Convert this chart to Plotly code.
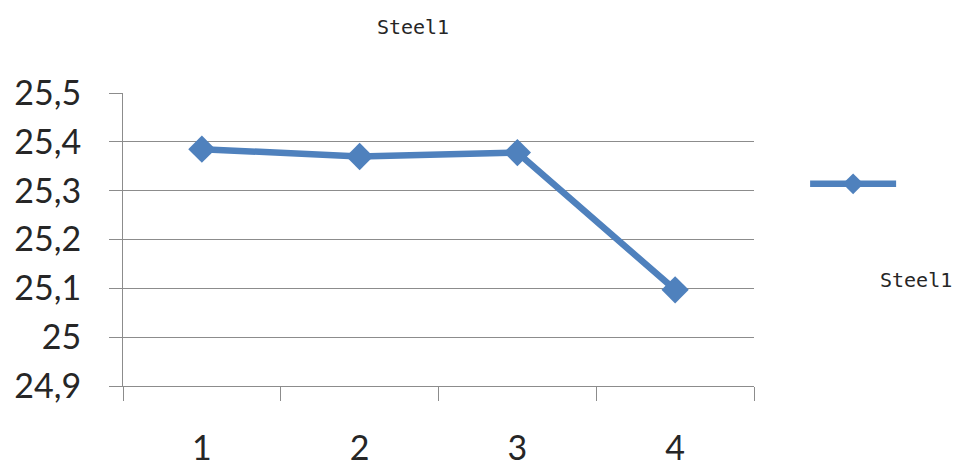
import plotly.graph_objects as go

categories = ["1", "2", "3", "4"]
steel1 = [25.385, 25.37, 25.378, 25.097]
y_tickvals = [24.9, 25.0, 25.1, 25.2, 25.3, 25.4, 25.5]
y_ticktext = ["24,9", "25", "25,1", "25,2", "25,3", "25,4", "25,5"]

BLUE = "#4F81BD"
GRID = "#8C8C8C"
TXT = "#262626"
TICKFONT = dict(family="Lato", size=34, color=TXT)

fig = go.Figure()
fig.add_trace(go.Scatter(
    x=categories, y=steel1, name=" ", mode="lines+markers",
    line=dict(color=BLUE, width=6.5),
    marker=dict(symbol="diamond", size=21, color=BLUE),
    showlegend=True, cliponaxis=False,
))

fig.update_layout(
    width=954, height=467,
    margin=dict(l=123, r=200, t=93, b=81, autoexpand=False),
    paper_bgcolor="white", plot_bgcolor="white",
    separators=", ",
    title=dict(text="Steel1", x=413/954, xanchor="center", y=1-27/467, yanchor="middle",
               font=dict(family="DejaVu Sans Mono", size=20, color=TXT)),
    legend=dict(x=1.081, y=0.69, xanchor="left", yanchor="middle",
                itemwidth=86, bgcolor="rgba(0,0,0,0)", borderwidth=0,
                font=dict(size=2)),
    xaxis=dict(type="category", range=[-0.5, 3.5], tickson="boundaries",
               ticks="outside", ticklen=14,
               tickcolor=GRID, tickwidth=1, showline=True, linecolor=GRID, linewidth=1,
               showgrid=False, tickfont=TICKFONT, ticklabelstandoff=32,
               fixedrange=True),
    yaxis=dict(range=[24.9, 25.5], tickvals=y_tickvals, ticktext=y_ticktext,
               ticks="outside", ticklen=13, tickcolor=GRID, tickwidth=1,
               showline=True, linecolor=GRID, linewidth=1,
               showgrid=True, gridcolor=GRID, gridwidth=1, zeroline=False,
               tickfont=TICKFONT, ticklabelstandoff=21),
    annotations=[dict(text="Steel1", xref="paper", yref="paper",
                      x=(916-123)/631, y=(386-280)/292.7, showarrow=False,
                      xanchor="center", yanchor="middle",
                      font=dict(family="DejaVu Sans Mono", size=20, color=TXT))],
)

fig.write_html("out.html")
